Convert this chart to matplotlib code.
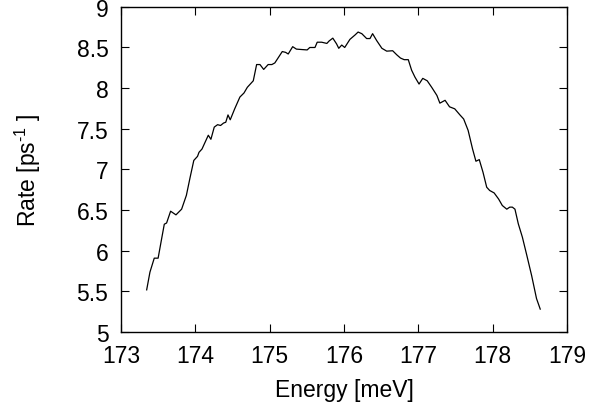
import matplotlib
matplotlib.use("Agg")
import matplotlib.pyplot as plt

plt.rcParams['font.family'] = ['Liberation Sans', 'DejaVu Sans']
plt.rcParams['mathtext.fontset'] = 'custom'
plt.rcParams['mathtext.rm'] = 'Liberation Sans'

# energy [meV] and rate [ps^-1]
energy = [173.346, 173.39, 173.448, 173.50, 173.547, 173.583, 173.614, 173.668, 173.74, 173.816,
          173.88, 173.93, 173.98, 174.03, 174.05, 174.09, 174.13, 174.175, 174.21, 174.255,
          174.30, 174.34, 174.38, 174.41, 174.44, 174.47, 174.53, 174.60, 174.655, 174.70,
          174.78, 174.825, 174.87, 174.92, 174.98, 175.03, 175.07, 175.12, 175.17, 175.215,
          175.25, 175.31, 175.36, 175.43, 175.505, 175.54, 175.61, 175.64, 175.70, 175.77,
          175.80, 175.85, 175.90, 175.93, 175.97, 176.01, 176.08, 176.15, 176.19, 176.24,
          176.305, 176.35, 176.385, 176.44, 176.51, 176.575, 176.655, 176.71, 176.76, 176.81,
          176.865, 176.91, 176.955, 177.01, 177.06, 177.12, 177.18, 177.25, 177.29, 177.36,
          177.42, 177.49, 177.56, 177.61, 177.67, 177.73, 177.775, 177.82, 177.87, 177.92,
          177.96, 178.02, 178.08, 178.13, 178.19, 178.23, 178.265, 178.30, 178.345, 178.40,
          178.46, 178.525, 178.59, 178.64]
rate = [5.517, 5.735, 5.907, 5.907, 6.145, 6.325, 6.34, 6.485, 6.44, 6.51,
        6.68, 6.90, 7.11, 7.16, 7.21, 7.25, 7.33, 7.42, 7.37, 7.52,
        7.55, 7.54, 7.57, 7.58, 7.67, 7.61, 7.745, 7.89, 7.94, 8.01,
        8.09, 8.29, 8.29, 8.23, 8.29, 8.29, 8.31, 8.38, 8.45, 8.44,
        8.42, 8.51, 8.48, 8.475, 8.47, 8.50, 8.50, 8.565, 8.565, 8.55,
        8.58, 8.615, 8.545, 8.49, 8.53, 8.50, 8.60, 8.655, 8.69, 8.67,
        8.61, 8.61, 8.67, 8.585, 8.49, 8.455, 8.46, 8.41, 8.37, 8.35,
        8.35, 8.22, 8.135, 8.05, 8.12, 8.09, 8.01, 7.91, 7.815, 7.85,
        7.77, 7.745, 7.67, 7.62, 7.48, 7.25, 7.10, 7.12, 6.965, 6.78,
        6.74, 6.71, 6.635, 6.555, 6.51, 6.535, 6.535, 6.51, 6.33, 6.165,
        5.94, 5.69, 5.41, 5.28]

xticks = [173, 174, 175, 176, 177, 178, 179]
yticks = [5, 5.5, 6, 6.5, 7, 7.5, 8, 8.5, 9]
ytick_labels = ['5', '5.5', '6', '6.5', '7', '7.5', '8', '8.5', '9']

fig = plt.figure(figsize=(5.9, 4.14), dpi=100)
ax = fig.add_axes([0.205, 0.196, 0.756, 0.785])
ax.plot(energy, rate, color='black', linewidth=0.9)

ax.set_xlim(173, 179)
ax.set_ylim(5, 9)
ax.set_xticks(xticks)
ax.set_xticklabels([str(t) for t in xticks])
ax.set_yticks(yticks)
ax.set_yticklabels(ytick_labels)
ax.tick_params(direction='in', top=True, right=True, length=6, width=0.8,
               labelsize=16.5, pad=9)
for s in ax.spines.values():
    s.set_linewidth(1.0)

ax.set_xlabel('Energy [meV]', fontsize=16.5, labelpad=8)
ax.set_ylabel('Rate [ps$^{\\text{-1}}$ ]', fontsize=16.5, labelpad=24)

fig.savefig('out.png', dpi=100)
